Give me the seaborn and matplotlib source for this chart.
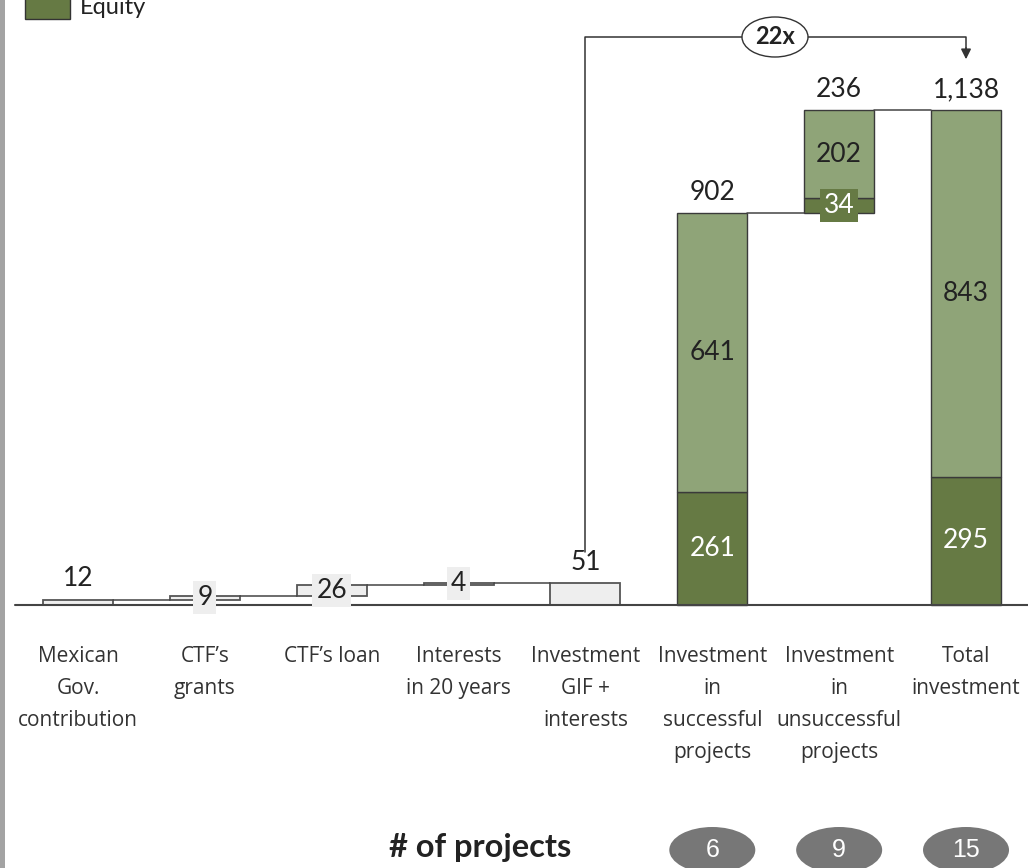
import numpy as np
import pandas as pd
import seaborn as sns
from matplotlib import pyplot as plt
from matplotlib.patches import Ellipse, Rectangle

# Chart data (USD million)
categories = ["Mexican\nGov.\ncontribution", "CTF’s\ngrants", "CTF’s loan", "Interests\nin 20 years",
              "Investment\nGIF +\ninterests", "Investment\nin\nsuccessful\nprojects",
              "Investment\nin\nunsuccessful\nprojects", "Total\ninvestment"]
funding = [12, 9, 26, 4, 51]
other = [641, 202, 843]
equity = [261, 34, 295]
projects = [6, 9, 15]
multiple = "22x"

LIGHT = "#8fa478"
DARK = "#667a44"
EDGE = "#3a3a3a"

sns.set_theme(style="white")
plt.rcParams["font.family"] = ["Lato", "DejaVu Sans"]

# bottoms of the floating bars
fund_bottom = list(np.cumsum([0] + funding[:3])) + [0]
fund_top = [b + v for b, v in zip(fund_bottom, funding)]
inv_total = [e + o for e, o in zip(equity, other)]
inv_bottom = [0, inv_total[0], 0]
inv_top = [b + t for b, t in zip(inv_bottom, inv_total)]

fund_df = pd.DataFrame({"category": categories[:5], "value": funding})
inv_df = pd.DataFrame({"category": categories[5:], "equity": equity, "other": other})

fig = plt.figure(figsize=(10.28, 8.68), dpi=100)
ax = fig.add_axes([0, 0, 1, 1])

px = 392 / 902          # pixels per unit
step = 126.86           # pixels between categories
bw = 70 / step

sns.barplot(data=fund_df, x="category", y="value", order=categories, bottom=fund_bottom,
            color="#eeeeee", edgecolor="#555555", linewidth=1.3, width=bw, errorbar=None,
            saturation=1, ax=ax)
sns.barplot(data=inv_df, x="category", y="equity", order=categories, bottom=inv_bottom,
            color=DARK, edgecolor=EDGE, linewidth=1, width=bw, errorbar=None,
            saturation=1, ax=ax)
sns.barplot(data=inv_df, x="category", y="other", order=categories,
            bottom=[b + e for b, e in zip(inv_bottom, equity)],
            color=LIGHT, edgecolor=EDGE, linewidth=1, width=bw, errorbar=None,
            saturation=1, ax=ax)
ax.set_xlim(-78 / step, (1028 - 78) / step)
ax.set_ylim(-(868 - 605) / px, 605 / px)
ax.set_axis_off()

# baseline
ax.plot([(15 - 78) / step, (1028 - 78) / step], [0, 0], color="#444444", lw=1.5, zorder=1)

# connectors
tops = fund_top[:4] + [fund_top[4]] + inv_top
for i in range(7):
    if i == 4:
        continue
    level = tops[i]
    ax.plot([i + bw / 2, i + 1 - bw / 2], [level, level], color="#444444", lw=1.1, zorder=1)

NUM = 19

# labels on small bars
for i in range(5):
    mid = fund_bottom[i] + funding[i] / 2
    if i in (0, 4):
        ax.annotate(str(funding[i]), (i, fund_top[i]), xytext=(0, 6), textcoords="offset points",
                    ha="center", va="bottom", fontsize=NUM, color="#222222")
    else:
        ax.text(i, mid, str(funding[i]), ha="center", va="center", fontsize=NUM, color="#222222",
                bbox=dict(boxstyle="square,pad=0.15", fc="#eeeeee", ec="none"), zorder=5)

# labels on investment bars
for k in range(3):
    i = 5 + k
    ax.annotate(f"{inv_total[k]:,}", (i, inv_top[k]), xytext=(0, 6), textcoords="offset points",
                ha="center", va="bottom", fontsize=NUM, color="#222222")
    ax.text(i, inv_bottom[k] + equity[k] + other[k] / 2, str(other[k]), ha="center", va="center",
            fontsize=NUM, color="#222222")
    box = dict(boxstyle="square,pad=0.15", fc=DARK, ec="none") if k == 1 else None
    ax.text(i, inv_bottom[k] + equity[k] / 2, str(equity[k]), ha="center", va="center",
            fontsize=NUM, color="white", bbox=box, zorder=5)

# category labels
for i, lab in enumerate(categories):
    ax.text(i, -(646 - 605) / px, lab, ha="center", va="top", fontsize=15, color="#333333",
            linespacing=1.68, family=["Open Sans", "DejaVu Sans"])

# 22x bracket
y_top = (605 - 37) / px
ax.plot([4, 4, 7, 7], [(605 - 552) / px, y_top, y_top, (605 - 52) / px], color="#333333", lw=1.1,
        zorder=2)
ax.annotate("", xy=(7, (605 - 62) / px), xytext=(7, (605 - 45) / px),
            arrowprops=dict(arrowstyle="-|>", color="#333333", lw=1.1, mutation_scale=15))
cx = (775 - 78) / step
ax.add_patch(Ellipse((cx, y_top), 66 / step, 40 / px, fc="white", ec="#333333", lw=1, zorder=3))
ax.text(cx, y_top, multiple, ha="center", va="center", fontsize=17, fontweight="bold",
        color="#222222", zorder=4)

# number of projects
y_proj = -(848 - 605) / px
ax.text((480 - 78) / step, y_proj, "# of projects", ha="center", va="center", fontsize=23.5,
        fontweight="bold", color="#222222")
for k, n in enumerate(projects):
    ax.add_patch(Ellipse((5 + k, y_proj - 2 / px), 86 / step, 46 / px, fc="#777777", ec="none"))
    ax.text(5 + k, y_proj - 2 / px, str(n), ha="center", va="center", fontsize=18, color="white",
            family=["Liberation Sans Narrow", "Liberation Sans", "DejaVu Sans"])

# truncated legend at top and left border
fig.add_artist(Rectangle((25 / 1028, 1 - 19 / 868), 45 / 1028, 24 / 868, transform=fig.transFigure,
                         fc=DARK, ec="#333333", lw=1))
fig.text(80 / 1028, 1 - 7 / 868, "Equity", ha="left", va="center", fontsize=17, color="#222222")
fig.add_artist(Rectangle((0, 0), 5 / 1028, 1, transform=fig.transFigure, fc="#a3a3a3", ec="none"))

fig.savefig("out.png", dpi=100)
